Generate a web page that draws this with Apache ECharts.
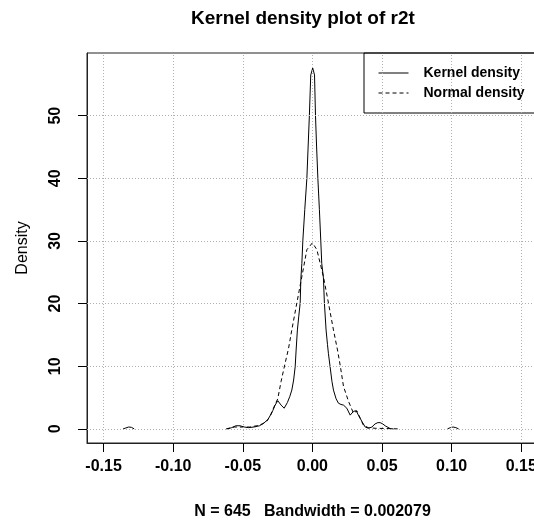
<!DOCTYPE html>
<html>
<head>
<meta charset="utf-8">
<script src="https://cdn.jsdelivr.net/npm/echarts@6/dist/echarts.min.js"></script>
<style>
html,body{margin:0;padding:0;background:#fff;}
#chart{width:534px;height:529px;}
</style>
</head>
<body>
<div id="chart"></div>
<script>
const titleText = 'Kernel density plot of r2t';
const xAxisTitle = 'N = 645   Bandwidth = 0.002079';
const yAxisTitle = 'Density';
const seriesNames = ['Kernel density', 'Normal density'];
const xTicks = [-0.15, -0.10, -0.05, 0.00, 0.05, 0.10, 0.15];
const yTicks = [0, 10, 20, 30, 40, 50];

// Kernel density (null = gap, where the curve lies on the zero line)
const kernelX = [-0.136, -0.134, -0.132, -0.130, -0.128, -0.100,
  -0.061, -0.058, -0.055, -0.052, -0.049, -0.046, -0.042, -0.038, -0.035, -0.032,
  -0.0304, -0.0285, -0.0268, -0.0249, -0.0225, -0.0203, -0.018, -0.0162, -0.0148,
  -0.0135, -0.0124, -0.0117, -0.0108, -0.0098, -0.0088, -0.0083, -0.0076, -0.0069,
  -0.0055, -0.0040, -0.0031, -0.0022, -0.0012, 0.0002, 0.0015, 0.0022, 0.0030,
  0.0039, 0.0050, 0.0060, 0.0067, 0.0079, 0.0086, 0.0098, 0.0108, 0.0115, 0.0127,
  0.0140, 0.0151, 0.0170, 0.0187, 0.0205, 0.0223, 0.0247, 0.0271, 0.0295, 0.0314,
  0.0330, 0.0355, 0.0379, 0.0402, 0.0427, 0.0450, 0.0470, 0.0486, 0.0505, 0.0522,
  0.0558, 0.058, 0.080,
  0.097, 0.099, 0.101, 0.103, 0.105];
const kernelY = [0.0, 0.15, 0.3, 0.25, 0.0, null,
  0.0, 0.2, 0.5, 0.5, 0.3, 0.2, 0.3, 0.5, 0.9, 1.5,
  2.1, 2.9, 3.8, 4.5, 3.8, 3.3, 4.2, 5.2, 6.2,
  7.8, 9.9, 12.6, 15.8, 18.0, 20.1, 24.0, 26.4, 30.0,
  35.0, 40.0, 45.0, 50.0, 56.5, 57.6, 56.5, 50.0, 45.0,
  40.0, 35.0, 30.0, 26.4, 24.1, 20.1, 15.8, 13.5, 12.0, 9.9,
  7.6, 6.2, 4.8, 4.1, 3.9, 3.8, 3.3, 2.2, 2.8, 2.9,
  2.2, 1.2, 0.3, 0.1, 0.3, 0.8, 1.0, 1.0, 0.8, 0.5,
  0.05, 0.0, null,
  0.0, 0.2, 0.3, 0.2, 0.0];

// Normal density
const normalX = [-0.062, -0.056, -0.050, -0.045, -0.040, -0.036, -0.0328, -0.030,
  -0.028, -0.0262, -0.0249, -0.0225, -0.0196, -0.0172, -0.0148, -0.0112, -0.0076,
  -0.0040, 0.0000, 0.0032, 0.0079, 0.0115, 0.0151, 0.0180, 0.0199, 0.0223, 0.0259,
  0.0295, 0.0319, 0.0343, 0.0366, 0.0400, 0.045, 0.055, 0.062];
const normalY = [0.0, 0.3, 0.3, 0.3, 0.5, 0.8, 1.2, 2.2,
  3.3, 4.2, 4.8, 7.6, 10.5, 12.8, 15.8, 20.1, 24.3,
  28.6, 29.7, 28.6, 24.3, 20.1, 15.8, 12.6, 10.2, 6.8, 4.4,
  2.5, 2.9, 1.7, 0.6, 0.2, 0.1, 0.05, 0.0];

const kernelData = kernelX.map((x, i) => [x, kernelY[i] === null ? '-' : kernelY[i]]);
const normalData = normalX.map((x, i) => [x, normalY[i]]);

const FONT = 'Liberation Sans, Arial, sans-serif';
const gridMarks = xTicks.map(v => ({xAxis: v})).concat(yTicks.map(v => ({yAxis: v})));

const chart = echarts.init(document.getElementById('chart'), null, {renderer: 'canvas'});
chart.setOption({
  animation: false,
  backgroundColor: '#fff',
  title: {
    text: titleText,
    left: 186, top: 4,
    textStyle: {fontFamily: FONT, fontSize: 19, fontWeight: 'bold', color: '#000'}
  },
  legend: {
    orient: 'vertical',
    left: 364, top: 53,
    padding: [13, 40, 13, 14],
    itemWidth: 30, itemHeight: 14, itemGap: 6,
    borderColor: '#000', borderWidth: 1,
    itemStyle: {opacity: 0, color: 'transparent', borderWidth: 0},
    lineStyle: {width: 1},
    textStyle: {fontFamily: FONT, fontSize: 14, fontWeight: 'bold', color: '#000', padding: [0, 0, 0, 10]},
    data: seriesNames
  },
  grid: {
    left: 87, top: 53, width: 451, height: 390,
    outerBoundsMode: 'none',
    show: true, borderColor: '#222', borderWidth: 1, backgroundColor: 'transparent'
  },
  xAxis: {
    type: 'value', min: -0.1619, max: 0.1620,
    axisLine: {show: true, onZero: false, lineStyle: {color: '#222', width: 1}},
    axisTick: {show: true, customValues: xTicks, length: 9, lineStyle: {color: '#000'}},
    axisLabel: {customValues: xTicks, formatter: v => v.toFixed(2), margin: 16,
      fontFamily: FONT, fontSize: 16, fontWeight: 'bold', color: '#000'},
    splitLine: {show: false},
    name: xAxisTitle, nameLocation: 'middle', nameGap: 61,
    nameTextStyle: {fontFamily: FONT, fontSize: 16, fontWeight: 'bold', color: '#000'}
  },
  yAxis: {
    type: 'value', min: -2.25, max: 60.0,
    axisLine: {show: true, onZero: false, lineStyle: {color: '#222', width: 1}},
    axisTick: {show: true, customValues: yTicks, length: 9, lineStyle: {color: '#000'}},
    axisLabel: {customValues: yTicks, rotate: 90, margin: 23,
      fontFamily: FONT, fontSize: 16, fontWeight: 'bold', color: '#000'},
    splitLine: {show: false},
    name: yAxisTitle, nameLocation: 'middle', nameGap: 56, nameRotate: 90,
    nameTextStyle: {fontFamily: FONT, fontSize: 16, color: '#000'}
  },
  series: [
    {
      name: seriesNames[0], type: 'line', data: kernelData, symbol: 'none',
      connectNulls: false, smooth: false,
      lineStyle: {color: '#000', width: 1, type: 'solid'},
      itemStyle: {color: '#000'},
      markLine: {
        silent: true, symbol: ['none', 'none'], label: {show: false},
        lineStyle: {color: '#b0b0b0', width: 1, type: [1, 2]},
        emphasis: {disabled: true},
        data: gridMarks
      },
      z: 3
    },
    {
      name: seriesNames[1], type: 'line', data: normalData, symbol: 'none',
      lineStyle: {color: '#000', width: 1, type: [4, 3]},
      itemStyle: {color: '#000'},
      z: 3
    }
  ]
});
</script>
</body>
</html>
